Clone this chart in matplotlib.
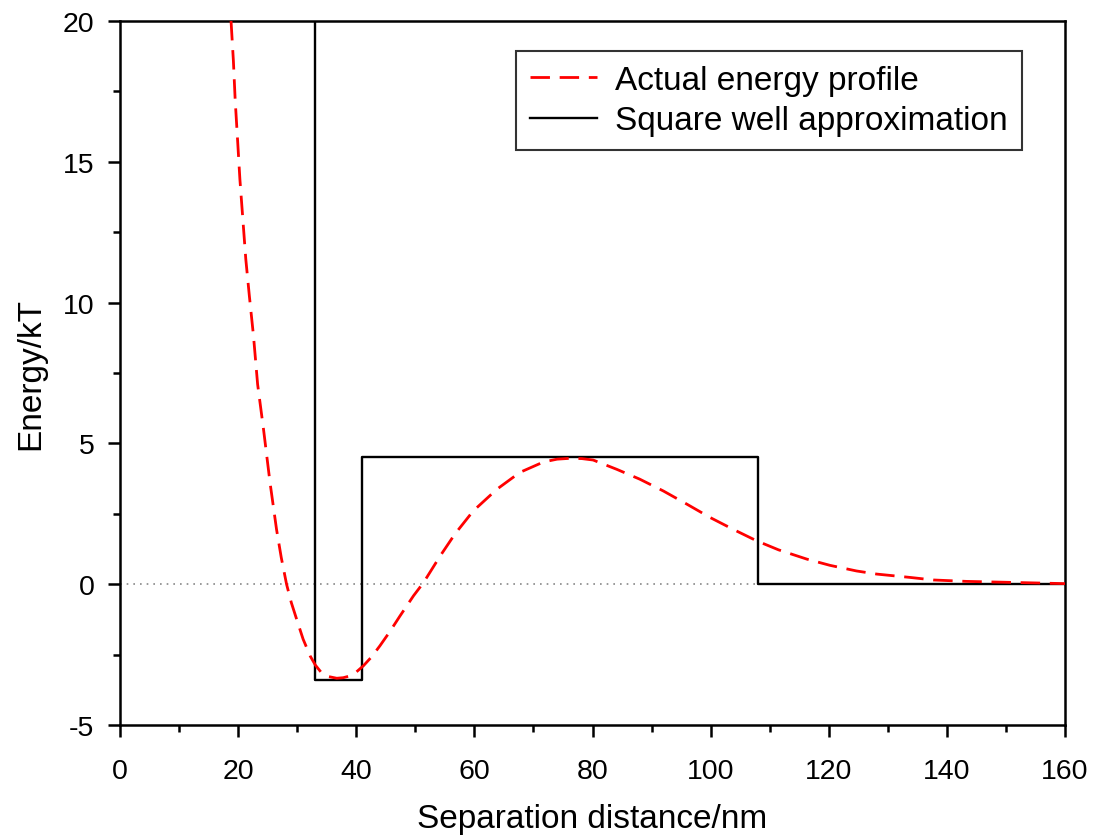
import matplotlib
matplotlib.use("Agg")
import matplotlib.pyplot as plt
from matplotlib.ticker import MultipleLocator, FuncFormatter

plt.rcParams['font.family'] = ['Liberation Sans', 'DejaVu Sans']

# Actual energy profile
curve_x = [18.8, 19.2, 19.5, 19.9, 20.3, 20.8, 21.3, 21.9, 22.6, 23.3, 24.3, 25.4, 26.5,
           27.3, 28.2, 29.0, 29.9, 31.0, 32.2, 33.1, 34.1, 35.3, 36.7, 37.8, 38.9, 40.0,
           41.2, 42.6, 44.0, 45.7, 47.4, 49.7, 51.4, 54.2, 56.7, 59.8, 63.8, 67.7, 71.7,
           74.0, 76.2, 78.2, 80.1, 84.1, 88.0, 92.0, 96.0, 99.9, 103.8, 107.8, 111.5,
           116.3, 120.2, 124.7, 128.1, 133.8, 137.7, 143.3, 151.8, 160.0]
curve_y = [20.0, 18.58, 17.2, 15.8, 14.38, 12.96, 11.54, 10.24, 8.82, 7.1, 5.5, 3.61, 1.95,
           0.95, 0.0, -0.65, -1.24, -1.95, -2.55, -2.88, -3.14, -3.28, -3.34, -3.32, -3.26, -3.12,
           -2.9, -2.58, -2.19, -1.68, -1.13, -0.41, 0.06, 1.0, 1.78, 2.6, 3.37, 3.97, 4.34,
           4.44, 4.47, 4.46, 4.41, 4.08, 3.73, 3.31, 2.84, 2.37, 1.95, 1.54, 1.22,
           0.89, 0.67, 0.47, 0.36, 0.24, 0.15, 0.1, 0.06, 0.02]

# Square well approximation
well_x = [33, 33, 41, 41, 108, 108, 160]
well_y = [20, -3.4, -3.4, 4.5, 4.5, 0, 0]

fig = plt.figure(figsize=(10.96, 8.37), dpi=100)
ax = fig.add_axes([120/1096, 1-726/837, (1065-120)/1096, (726-22)/837])

ax.axhline(0, color='#888888', lw=1.2, ls=(0, (1, 3)), zorder=1)
ax.plot(curve_x, curve_y, color='red', lw=2.0, ls=(0, (7, 3.5)),
        label='Actual energy profile', zorder=3)
ax.plot(well_x, well_y, color='black', lw=1.7, label='Square well approximation', zorder=2)

ax.set_xlim(0, 160)
ax.set_ylim(-5, 20)
ax.xaxis.set_major_locator(MultipleLocator(20))
ax.xaxis.set_minor_locator(MultipleLocator(10))
ax.yaxis.set_major_locator(MultipleLocator(5))
ax.yaxis.set_minor_locator(MultipleLocator(2.5))
ax.tick_params(which='major', direction='out', length=8.5, width=1.8, labelsize=20.5)
ax.tick_params(which='minor', direction='out', length=5, width=1.8)
ax.tick_params(axis='x', which='major', pad=15)
ax.tick_params(axis='y', which='major', pad=10)
ax.yaxis.set_major_formatter(FuncFormatter(lambda v, p: f"{v:g}"))
for s in ax.spines.values():
    s.set_linewidth(1.8)

ax.set_xlabel('Separation distance/nm', fontsize=24, labelpad=14)
ax.set_ylabel('Energy/kT', fontsize=24, labelpad=12)

leg = ax.legend(loc='upper right', bbox_to_anchor=(1022/1096, 1-52/837), bbox_transform=fig.transFigure,
                fontsize=24, frameon=True, fancybox=False, edgecolor='black',
                handlelength=2.0, borderpad=0.42, labelspacing=0.28, handletextpad=0.55,
                borderaxespad=0)
leg.get_frame().set_linewidth(1.5)

fig.savefig('out.png', dpi=100)
